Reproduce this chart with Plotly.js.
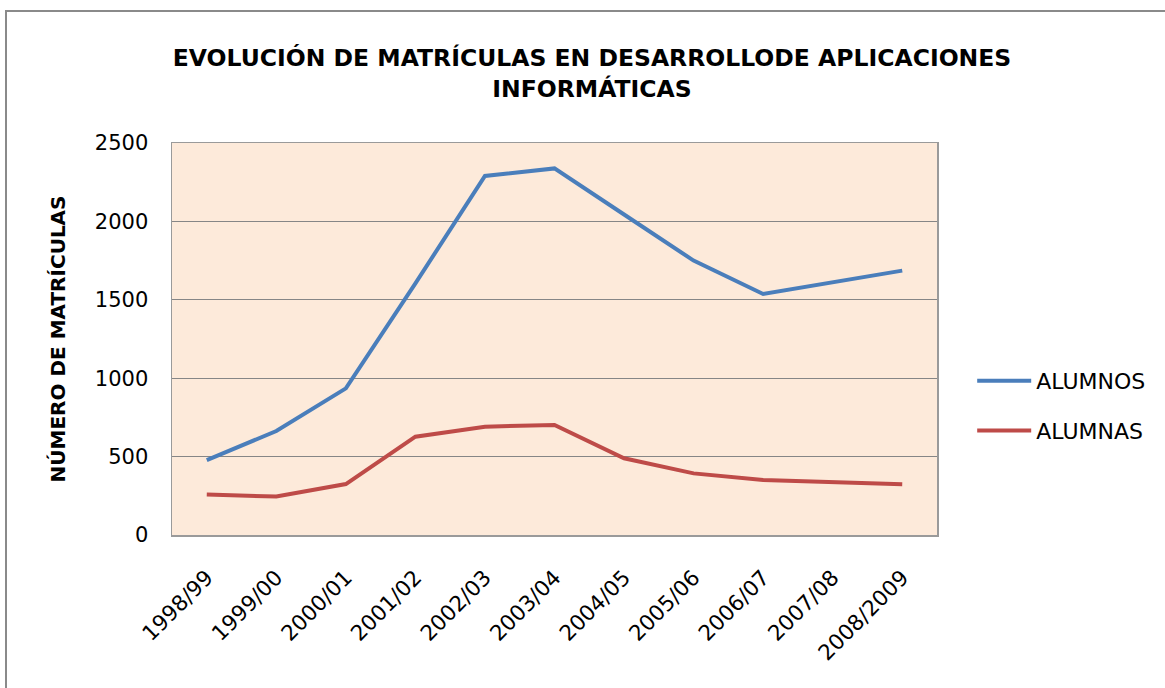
<!DOCTYPE html>
<html>
<head>
<meta charset="utf-8">
<script src="https://cdn.plot.ly/plotly-3.0.1.min.js"></script>
<style>
  html, body { margin: 0; padding: 0; background: #ffffff; }
  #chart { width: 1165px; height: 688px; }
</style>
</head>
<body>
<div id="chart"></div>
<script>
const categories = ['1998/99', '1999/00', '2000/01', '2001/02', '2002/03', '2003/04', '2004/05', '2005/06', '2006/07', '2007/08', '2008/2009'];
const alumnos = [478, 663, 935, 1605, 2290, 2338, 2044, 1750, 1537, 1612, 1686];
const alumnas = [259, 245, 325, 627, 691, 702, 489, 393, 351, 340, 323];
const yTicks = [0, 500, 1000, 1500, 2000, 2500];

const traces = [
  { x: categories, y: alumnos, name: 'ALUMNOS', type: 'scatter', mode: 'lines',
    legendgroup: 'a', line: { color: '#4A7EBB', width: 4 } },
  { x: categories, y: alumnas, name: 'ALUMNAS', type: 'scatter', mode: 'lines',
    legendgroup: 'b', line: { color: '#BE4B48', width: 4 } }
];

const layout = {
  width: 1165, height: 688,
  margin: { l: 172, r: 228, t: 143, b: 153 },
  paper_bgcolor: '#ffffff',
  plot_bgcolor: '#FDEADA',
  font: { family: 'DejaVu Sans', color: '#000000' },
  title: {
    text: '<b>EVOLUCIÓN DE MATRÍCULAS EN DESARROLLODE APLICACIONES<br>INFORMÁTICAS</b>',
    font: { family: 'DejaVu Sans', size: 23.5, color: '#000000' },
    xref: 'container', x: 592 / 1165, xanchor: 'center',
    yref: 'container', y: 1 - 66 / 688, yanchor: 'middle'
  },
  xaxis: {
    type: 'category',
    range: [-0.5, categories.length - 0.5],
    tickangle: -45,
    tickfont: { family: 'DejaVu Sans', size: 21.5, color: '#000000' },
    ticklabelstandoff: 20,
    showgrid: false, zeroline: false,
    showline: true, mirror: true, linecolor: '#9a9a9a', linewidth: 1.5,
    ticks: '', fixedrange: true
  },
  yaxis: {
    range: [0, 2500],
    tickvals: yTicks,
    ticktext: yTicks.map(String),
    tickfont: { family: 'DejaVu Sans', size: 21, color: '#000000' },
    ticks: '', ticklen: 0, ticklabelstandoff: 18,
    showgrid: true, gridcolor: '#868686', gridwidth: 1,
    zeroline: false,
    showline: true, mirror: true, linecolor: '#9a9a9a', linewidth: 1.5,
    title: { text: '<b>NÚMERO DE MATRÍCULAS</b>', font: { family: 'DejaVu Sans', size: 20, color: '#000000' }, standoff: 24 },
    fixedrange: true
  },
  showlegend: true,
  legend: {
    x: 1.046, xanchor: 'left', y: 0.329, yanchor: 'middle',
    font: { family: 'DejaVu Sans', size: 22, color: '#000000' },
    bgcolor: 'rgba(0,0,0,0)', borderwidth: 0,
    traceorder: 'grouped', tracegroupgap: 18, itemwidth: 54
  },
  shapes: [
    { type: 'rect', xref: 'paper', yref: 'paper',
      x0: (6 - 172) / 765, x1: (1180 - 172) / 765,
      y0: (535 - 720) / 392, y1: (535 - 11) / 392,
      line: { color: '#8a8a8a', width: 2 }, fillcolor: 'rgba(0,0,0,0)', layer: 'above' }
  ]
};

Plotly.newPlot('chart', traces, layout, { displayModeBar: false, staticPlot: true });
</script>
</body>
</html>
